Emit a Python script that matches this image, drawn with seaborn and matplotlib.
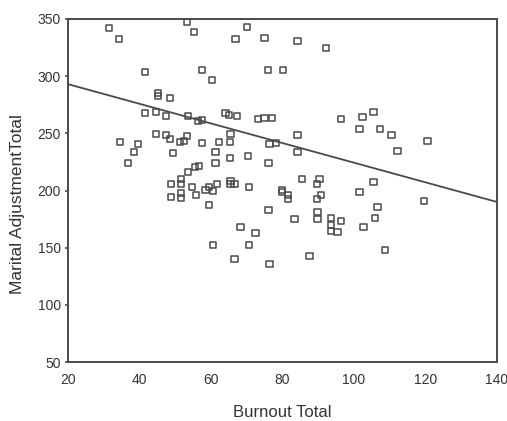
import pandas as pd
import matplotlib
matplotlib.use('Agg')
import matplotlib.pyplot as plt
import seaborn as sns

# values
burnout = [31.5, 34.2, 53.2, 55.2, 70.0, 66.9, 75.0, 84.2, 92.1, 41.5,
           57.4, 60.2, 75.9, 80.1, 45.1, 45.1, 48.5, 41.5, 44.6, 47.4,
           53.5, 56.3, 57.4, 64.1, 65.0, 67.2, 73.1, 75.0, 77.0, 96.5,
           102.4, 105.5, 101.6, 107.4, 110.5, 120.6, 112.2, 84.2, 84.2, 65.5,
           65.3, 76.4, 78.1, 34.5, 39.6, 38.4, 36.8, 44.6, 47.4, 48.5,
           51.3, 52.4, 53.2, 57.4, 62.2, 49.3, 61.3, 61.3, 65.3, 70.3,
           76.1, 53.5, 55.5, 56.6, 48.8, 51.6, 51.6, 54.6, 48.8, 51.6,
           51.6, 55.8, 58.5, 59.4, 60.5, 61.6, 65.5, 65.5, 66.6, 70.6,
           59.4, 76.1, 68.3, 72.5, 60.5, 70.6, 66.6, 76.4, 85.4, 90.4,
           89.6, 105.5, 79.8, 79.8, 81.5, 81.5, 89.6, 90.7, 101.6, 83.4,
           89.8, 89.8, 93.5, 93.5, 93.5, 95.4, 96.5, 102.7, 105.8, 106.6,
           119.7, 108.8, 87.6]
marital = [342.1, 332.5, 347.4, 338.6, 343.0, 332.5, 333.4, 330.8, 324.6, 303.6,
           305.4, 296.6, 305.4, 305.4, 285.3, 282.6, 280.9, 267.8, 268.6, 265.1,
           265.1, 260.8, 261.6, 267.8, 266.0, 265.1, 262.5, 263.4, 263.4, 262.5,
           264.3, 268.6, 253.8, 253.8, 248.5, 243.3, 234.5, 248.5, 233.6, 249.4,
           242.4, 240.6, 241.5, 242.4, 240.6, 233.6, 224.0, 249.4, 248.5, 245.0,
           242.4, 243.3, 247.6, 241.5, 242.4, 232.8, 233.6, 224.0, 228.4, 230.1,
           224.0, 216.1, 220.5, 221.4, 205.6, 210.0, 205.6, 203.0, 194.3, 197.8,
           193.4, 196.0, 200.4, 203.0, 199.5, 205.6, 208.3, 205.6, 205.6, 203.0,
           187.3, 182.9, 168.0, 162.8, 152.3, 152.3, 140.0, 135.6, 210.0, 210.0,
           205.6, 207.4, 200.4, 198.6, 196.0, 192.5, 192.5, 196.0, 198.6, 175.0,
           181.1, 175.0, 175.9, 169.8, 164.5, 163.6, 173.3, 168.0, 175.9, 185.5,
           190.8, 147.9, 142.6]

# fit line as printed in the reference (values at the x-axis ends)
fit_x = [20, 140]
fit_y = [293, 190]

x_ticks = [20, 40, 60, 80, 100, 120, 140]
y_ticks = [50, 100, 150, 200, 250, 300, 350]

df = pd.DataFrame({'Burnout Total': burnout, 'Marital AdjustmentTotal': marital})
fit = pd.DataFrame({'x': fit_x, 'y': fit_y})

sns.set_style('white')
plt.rcParams['font.family'] = ['Liberation Sans', 'DejaVu Sans']

fig = plt.figure(figsize=(5.07, 4.21), dpi=100)
ax = fig.add_axes([0.134, 0.140, 0.846, 0.815])

ink = '#4a4a4a'
sns.scatterplot(data=df, x='Burnout Total', y='Marital AdjustmentTotal', ax=ax,
                marker='s', s=20, facecolors='none', edgecolor=ink, linewidth=1.1)
sns.lineplot(data=fit, x='x', y='y', ax=ax, color=ink, linewidth=1.3)

ax.set_xlim(20, 140)
ax.set_ylim(50, 350)
ax.set_xticks(x_ticks)
ax.set_yticks(y_ticks)
ax.tick_params(axis='x', length=0, pad=8, labelsize=10, labelcolor='#333333')
ax.tick_params(axis='y', length=2, width=1.2, color=ink, pad=3, labelsize=10,
               labelcolor='#333333', left=True)
for s in ax.spines.values():
    s.set_color(ink)
    s.set_linewidth(1.4)

ax.set_xlabel('Burnout Total', fontsize=12, color='#333333', labelpad=13)
ax.set_ylabel('Marital AdjustmentTotal', fontsize=12.5, color='#333333')
ax.yaxis.set_label_coords(-0.10, 0.46)

fig.savefig('out.png', dpi=100, facecolor='white')
